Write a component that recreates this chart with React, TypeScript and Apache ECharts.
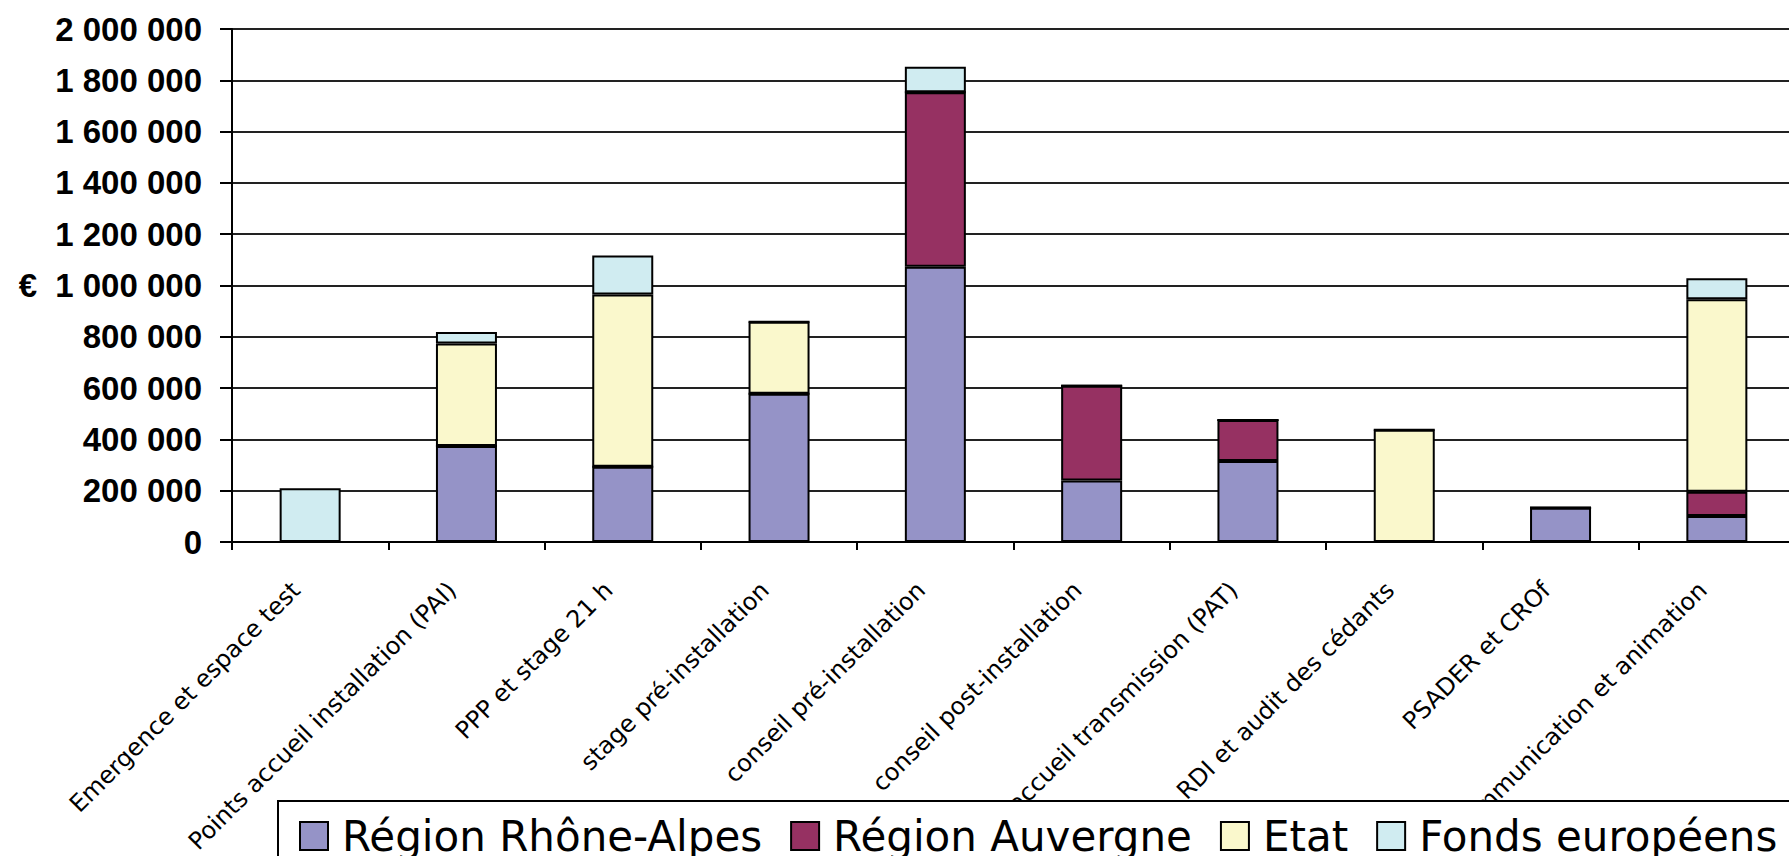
import React, { useEffect, useRef } from "react";
import * as echarts from "echarts";

const categories = [
  "Emergence et espace test",
  "Points accueil installation (PAI)",
  "PPP et stage 21 h",
  "stage pré-installation",
  "conseil pré-installation",
  "conseil post-installation",
  "Points accueil transmission (PAT)",
  "RDI et audit des cédants",
  "PSADER et CROf",
  "Communication et animation",
];

const seriesNames = ["Région Rhône-Alpes", "Région Auvergne", "Etat", "Fonds européens"];
const seriesColors = ["#9593C7", "#963162", "#FAF8CC", "#D0ECF1"];

const rhoneAlpes = [0, 374000, 293000, 578000, 1073000, 240000, 316000, 0, 134000, 101000];
const auvergne = [0, 0, 0, 0, 680000, 369000, 160000, 0, 0, 95000];
const etat = [0, 400000, 672000, 281000, 0, 0, 0, 438000, 0, 750000];
const fondsEuropeens = [210000, 45000, 152000, 0, 100000, 0, 0, 0, 0, 82000];

const seriesValues = [rhoneAlpes, auvergne, etat, fondsEuropeens];

const yMin = 0;
const yMax = 2000000;
const yInterval = 200000;

const fmt = (v: number) => String(v).replace(/\B(?=(\d{3})+(?!\d))/g, " ");

export default function App() {
  const ref = useRef<HTMLDivElement>(null);
  useEffect(() => {
    if (!ref.current) return;
    const chart = echarts.init(ref.current, undefined, { renderer: "svg" });
    chart.setOption({
      animation: false,
      backgroundColor: "#fff",
      grid: {
        left: 232,
        top: 29,
        width: 1563,
        height: 513,
        containLabel: false,
        outerBoundsMode: "none",
      },
      legend: {
        left: 278,
        top: 801,
        width: 1700,
        data: seriesNames,
        icon: "rect",
        itemWidth: 28,
        itemHeight: 28,
        itemGap: 28,
        padding: [14, 40, 30, 21],
        backgroundColor: "#fff",
        borderColor: "#000",
        borderWidth: 2,
        textStyle: {
          fontFamily: "DejaVu Sans",
          fontSize: 42,
          color: "#000",
          padding: [0, 0, 0, 9],
        },
        z: 10,
      },
      xAxis: {
        type: "category",
        data: categories,
        boundaryGap: true,
        axisLine: { show: true, lineStyle: { color: "#000", width: 2 } },
        axisTick: { show: true, alignWithLabel: false, length: 8, lineStyle: { color: "#000", width: 2 } },
        axisLabel: {
          interval: 0,
          rotate: 45,
          margin: 30,
          padding: [0, 20, 0, 0],
          fontFamily: "DejaVu Sans",
          fontSize: 24,
          color: "#000",
        },
        splitLine: { show: false },
      },
      yAxis: {
        type: "value",
        min: yMin,
        max: yMax,
        interval: yInterval,
        name: "€",
        nameLocation: "middle",
        nameRotate: 0,
        nameGap: 204,
        nameTextStyle: {
          fontFamily: "Liberation Sans",
          fontWeight: "bold",
          fontSize: 33,
          color: "#000",
          align: "center",
        },
        axisLine: { show: true, lineStyle: { color: "#000", width: 2 } },
        axisTick: { show: true, length: 12, lineStyle: { color: "#000", width: 2 } },
        axisLabel: {
          margin: 30,
          fontFamily: "Liberation Sans",
          fontWeight: "bold",
          fontSize: 33,
          color: "#000",
          formatter: (v: number) => fmt(v),
        },
        splitLine: { show: true, lineStyle: { color: "#222", width: 2 } },
      },
      series: seriesNames.map((name, i) => ({
        name,
        type: "bar",
        stack: "total",
        barWidth: 61,
        data: seriesValues[i],
        itemStyle: { color: seriesColors[i], borderColor: "#000", borderWidth: 2 },
      })),
    });
    return () => chart.dispose();
  }, []);
  return (
    <div
      ref={ref}
      style={{ position: "absolute", left: 0, top: 0, width: 1789, height: 856 }}
    />
  );
}
